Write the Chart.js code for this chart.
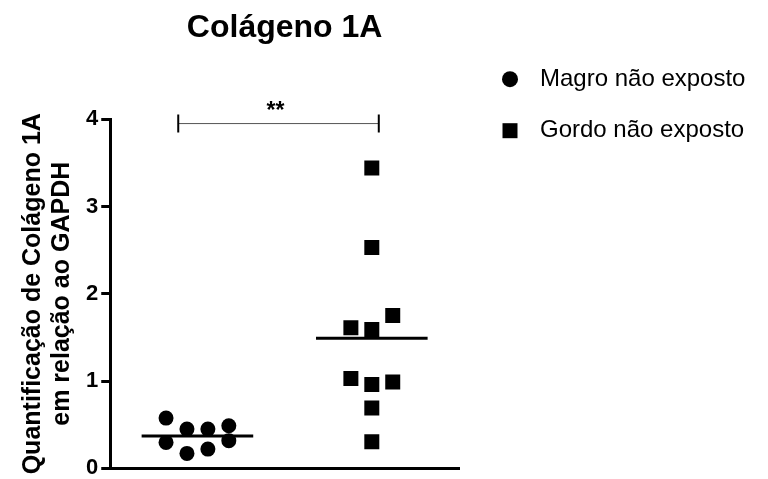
<!DOCTYPE html>
<html>
<head>
<meta charset="utf-8">
<title>Colágeno 1A</title>
<style>
  html, body { margin: 0; padding: 0; background: #fff; }
  #wrap { width: 768px; height: 479px; }
</style>
</head>
<body>
<div id="wrap"><canvas id="grafico"></canvas></div>
<script src="https://cdn.jsdelivr.net/npm/chart.js@4.4.1/dist/chart.umd.min.js"></script>
<script>
// dados
const titulo = 'Colágeno 1A';
const tituloEixoY = ['Quantificação de Colágeno 1A', 'em relação ao GAPDH'];
const grupos = ['Magro não exposto', 'Gordo não exposto'];
const yTicks = [0, 1, 2, 3, 4];

const magroValores = [0.575, 0.297, 0.449, 0.171, 0.449, 0.220, 0.488, 0.317];
const magroColuna  = [-1.5, -1.5, -0.5, -0.5, 0.5, 0.5, 1.5, 1.5];
const gordoValores = [3.44, 2.53, 1.61, 1.59, 1.75, 1.03, 0.96, 0.99, 0.69, 0.305];
const gordoColuna  = [0, 0, -1, 0, 1, -1, 0, 1, 0, 0];

const sigDe = 0.89, sigAte = 2.04, sigY = 3.95, sigTexto = '**';

const FONTE = "'Liberation Sans', Arial, sans-serif";
const COL = 0.12;   // espaço entre colunas de pontos
const MEIA = 0.32;  // meia largura da linha da média

Chart.defaults.font.family = FONTE;
Chart.defaults.color = '#000';

const pontos = (valores, colunas, g) => valores.map((v, i) => ({ x: g + colunas[i] * COL, y: v }));
const media = (valores) => valores.reduce((a, b) => a + b, 0) / valores.length;
const linhaMedia = (valores, g) => {
    const m = media(valores);
    return [{ x: g - MEIA, y: m }, { x: g + MEIA, y: m }];
};

// colchete de significância + legenda
const extras = {
    id: 'extras',
    afterDraw(chart) {
        const { ctx, chartArea, scales: { x, y } } = chart;
        const x1 = x.getPixelForValue(sigDe), x2 = x.getPixelForValue(sigAte);
        const yb = y.getPixelForValue(sigY);
        ctx.save();
        ctx.strokeStyle = '#555';
        ctx.lineWidth = 1;
        ctx.beginPath(); ctx.moveTo(x1, yb); ctx.lineTo(x2, yb); ctx.stroke();
        ctx.strokeStyle = '#000';
        ctx.lineWidth = 2;
        ctx.beginPath();
        ctx.moveTo(x1, yb - 9); ctx.lineTo(x1, yb + 9);
        ctx.moveTo(x2, yb - 9); ctx.lineTo(x2, yb + 9);
        ctx.stroke();
        ctx.fillStyle = '#000';
        ctx.font = `bold 23px ${FONTE}`;
        ctx.textAlign = 'center';
        ctx.textBaseline = 'alphabetic';
        ctx.fillText(sigTexto, (x1 + x2) / 2 - 3, yb - 6);

        // legenda
        ctx.font = `24px ${FONTE}`;
        ctx.textAlign = 'left';
        ctx.textBaseline = 'middle';
        chart.data.datasets.filter(d => grupos.includes(d.label)).forEach((d, i) => {
            const cx = chartArea.right + 51;
            const cy = chartArea.top - 40 + i * 51.5;
            ctx.beginPath();
            if (d.pointStyle === 'circle') ctx.arc(cx, cy, 8, 0, Math.PI * 2);
            else ctx.rect(cx - 7.5, cy - 7.5, 15, 15);
            ctx.fill();
            ctx.fillText(d.label, chartArea.right + 81, cy);
        });
        ctx.restore();
    }
};

new Chart(document.getElementById('grafico'), {
    type: 'scatter',
    data: {
        datasets: [
            { label: grupos[0], data: pontos(magroValores, magroColuna, 1), pointStyle: 'circle',
              pointRadius: 7.5, backgroundColor: '#000', borderWidth: 0, order: 1 },
            { label: grupos[1], data: pontos(gordoValores, gordoColuna, 2), pointStyle: 'rect',
              pointRadius: 10.6, backgroundColor: '#000', borderWidth: 0, order: 1 },
            { label: 'média magro', data: linhaMedia(magroValores, 1), showLine: true,
              borderColor: '#000', borderWidth: 3, pointRadius: 0, order: 2 },
            { label: 'média gordo', data: linhaMedia(gordoValores, 2), showLine: true,
              borderColor: '#000', borderWidth: 3, pointRadius: 0, order: 2 }
        ]
    },
    options: {
        responsive: true,
        maintainAspectRatio: false,
        devicePixelRatio: 1,
        animation: false,
        layout: { padding: { left: 0, right: 309, top: 0, bottom: 8 } },
        plugins: {
            legend: { display: false },
            tooltip: { enabled: false },
            title: {
                display: true, text: titulo, fullSize: false, color: '#000',
                font: { size: 32, weight: 'bold', lineHeight: 1.1 },
                padding: { top: 11, bottom: 73 }
            }
        },
        scales: {
            x: {
                type: 'linear', min: 0.5, max: 2.5,
                ticks: { display: false },
                grid: { display: false, drawTicks: false, tickLength: 0 },
                border: { display: true, width: 3, color: '#000' }
            },
            y: {
                min: 0, max: 4,
                afterBuildTicks: (axis) => { axis.ticks = yTicks.map(v => ({ value: v })); },
                ticks: { font: { size: 22, weight: 'bold', lineHeight: 0.7 }, padding: 3, color: '#000' },
                grid: { drawOnChartArea: false, drawTicks: true, tickLength: 9, lineWidth: 3, color: '#000' },
                border: { display: true, width: 3, color: '#000' },
                title: {
                    display: true, text: tituloEixoY, color: '#000',
                    font: { size: 25, weight: 'bold', lineHeight: 1.16 },
                    padding: { top: 19, bottom: 6 }
                }
            }
        }
    },
    plugins: [extras]
});
</script>
</body>
</html>
